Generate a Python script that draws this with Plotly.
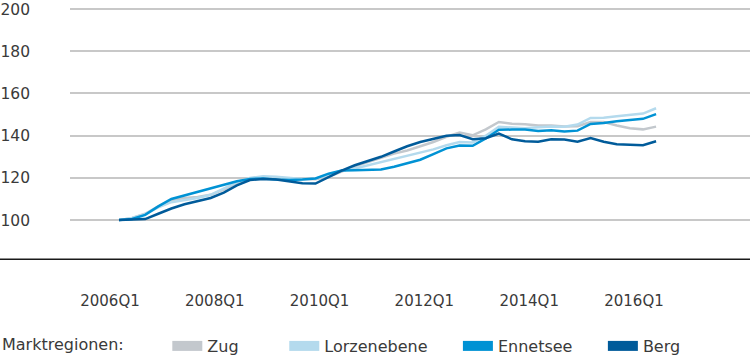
import plotly.graph_objects as go

quarters = [f"{y}Q{q}" for y in range(2006, 2017) for q in range(1, 5)][:42]
tick_labels = ["2006Q1", "2008Q1", "2010Q1", "2012Q1", "2014Q1", "2016Q1"]
y_ticks = [100, 120, 140, 160, 180, 200]

zug = [100, 101, 103, 106.5, 109.5, 110.5, 111, 112, 114.5, 117.5, 119.5, 120.3,
       120, 119.8, 119.3, 119.4, 120.5, 123, 125.5, 127.5, 129.5, 131.5, 133, 135,
       137, 139.5, 141.5, 140.2, 143, 146.5, 145.7, 145.4, 144.8, 144.8, 144.3, 144.5,
       146.5, 146.5, 144.8, 143.5, 143, 144.3]
lorzenebene = [100, 101, 102.8, 106, 108.5, 109.5, 110.5, 112, 115, 118, 120, 120.8,
               120.5, 120, 119.5, 119.6, 121.5, 123.5, 124.5, 126, 127.5, 129, 130.5, 132,
               133.5, 135.5, 137, 136.8, 140, 144.2, 143.8, 143.5, 144, 144.3, 144.2, 145.3,
               148.4, 148.5, 149.2, 149.8, 150.5, 153]
ennetsee = [100, 100.5, 102.5, 106.5, 110, 111.7, 113.3, 114.9, 116.8, 118.4, 119.5, 119.7,
            119.2, 119, 119.2, 119.7, 122, 123.5, 123.6, 123.7, 124, 125.3, 126.8, 128.6,
            131.3, 134, 135.3, 135.2, 138.7, 142.8, 142.9, 142.9, 142.2, 142.6, 142, 142.4,
            145.6, 146, 146.8, 147.5, 148, 150.2]
berg = [100, 100.2, 100.5, 103, 105.5, 107.5, 109, 110.5, 113, 116.5, 119, 119.5,
        119.2, 118.5, 117.5, 117.3, 120.5, 123.5, 126, 128, 130, 132.5, 135, 137,
        138.5, 140, 140.3, 138.3, 138.8, 141, 138.3, 137.4, 137.1, 138.3, 138.2, 137.2,
        138.9, 137.1, 136, 135.8, 135.5, 137.4]

names = ["Zug", "Lorzenebene", "Ennetsee", "Berg"]
series = [zug, lorzenebene, ennetsee, berg]
colors = ["#c3c8cd", "#b4daed", "#0092d4", "#005b9a"]
pads = [8, 5, 5, 0]

FONT = "DejaVu Sans"
TXT = "#3a3a3a"

fig = go.Figure()
for name, vals, col in zip(names, series, colors):
    fig.add_trace(go.Scatter(x=quarters, y=vals, mode="lines", name=name,
                             line=dict(color=col, width=2.5), showlegend=False,
                             legendgroup=name, hoverinfo="x+y+name"))
for name, col, p in zip(names, colors, pads):
    fig.add_trace(go.Scatter(x=[None], y=[None], mode="lines",
                             name=name + "\u00a0" * p, legendgroup=name,
                             line=dict(color=col, width=10), showlegend=True))

fig.update_layout(
    width=750, height=357,
    margin=dict(l=0, r=0, t=0, b=0, autoexpand=False),
    paper_bgcolor="white", plot_bgcolor="white",
    font=dict(family=FONT, color=TXT, size=15),
    xaxis=dict(type="category", categoryorder="array", categoryarray=quarters,
               range=[-3.74, 48.17], domain=[70 / 750, 1], automargin=False,
               tickmode="array", tickvals=tick_labels, ticktext=tick_labels,
               showgrid=False, zeroline=False, showline=False, ticks="",
               ticklabelstandoff=30, ticklabelshift=-9,
               tickfont=dict(size=15, color=TXT)),
    yaxis=dict(range=[81.1, 204.3], domain=[1 - 260 / 357, 1], automargin=False,
               tickvals=y_ticks, showgrid=True, gridcolor="#c8c8c8", gridwidth=1.5,
               zeroline=False, showline=False, ticks="",
               ticklabelstandoff=39, ticklabeloverflow="allow",
               tickfont=dict(size=15.5, color=TXT)),
    legend=dict(orientation="h", x=0, xanchor="left", y=1 - 346 / 357, yanchor="middle",
                font=dict(size=16, color=TXT), bgcolor="rgba(0,0,0,0)",
                title=dict(text="Marktregionen:" + "\u00a0" * 7, side="left",
                           font=dict(size=16, color=TXT)),
                itemclick=False, itemdoubleclick=False),
    showlegend=True,
)
fig.add_shape(type="line", xref="paper", yref="y", x0=0, x1=1, y0=81.1, y1=81.1,
              line=dict(color="#1a1a1a", width=3))

fig.write_html("out.html", config={"displayModeBar": False},
               post_script="document.body.style.margin='0';document.body.style.overflow='hidden';")
